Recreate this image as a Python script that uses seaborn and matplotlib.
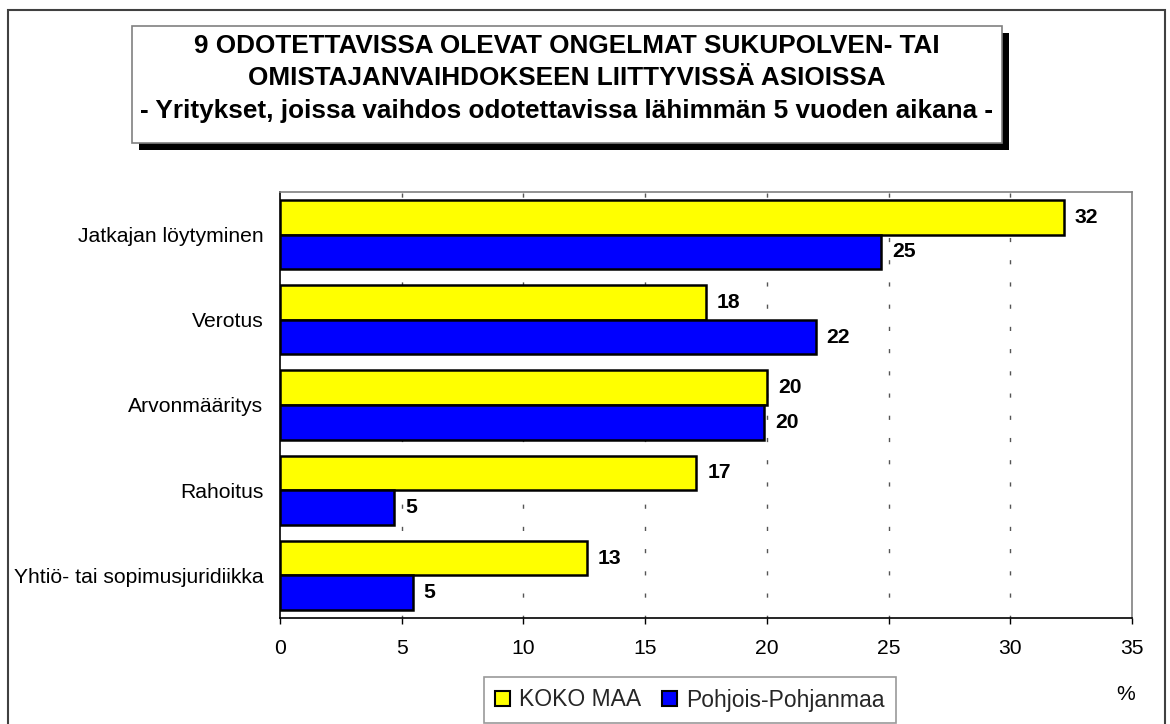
import matplotlib
matplotlib.use("Agg")
import matplotlib.pyplot as plt
from matplotlib.patches import Rectangle
import seaborn as sns
import pandas as pd

# ---- data ----
categories = ["Jatkajan löytyminen", "Verotus", "Arvonmääritys", "Rahoitus",
              "Yhtiö- tai sopimusjuridiikka"]
series_names = ["KOKO MAA", "Pohjois-Pohjanmaa"]
koko_maa = [32.2, 17.5, 20.0, 17.1, 12.6]
pohjois_pohjanmaa = [24.7, 22.0, 19.9, 4.7, 5.45]
x_ticks = [0, 5, 10, 15, 20, 25, 30, 35]
title_lines = ["9 ODOTETTAVISSA OLEVAT ONGELMAT SUKUPOLVEN- TAI",
               "OMISTAJANVAIHDOKSEEN LIITTYVISSÄ ASIOISSA",
               "- Yritykset, joissa vaihdos odotettavissa lähimmän 5 vuoden aikana -"]
unit_label = "%"

df = pd.DataFrame({
    "category": categories * 2,
    "series": [series_names[0]] * len(categories) + [series_names[1]] * len(categories),
    "value": koko_maa + pohjois_pohjanmaa,
})

sns.set_theme(style="white")
plt.rcParams["font.family"] = ["Liberation Sans", "DejaVu Sans"]
plt.rcParams["lines.scale_dashes"] = False

W, H = 1170, 724
fig = plt.figure(figsize=(W / 100, H / 100), dpi=100)
fig.patch.set_facecolor("white")

def fx(px):
    return px / W

def fy(py):
    return 1 - py / H

FS = 15.2

ax = fig.add_axes([fx(280), fy(618), fx(1132) - fx(280), fy(192) - fy(618)])

sns.barplot(data=df, y="category", x="value", hue="series", orient="h",
            palette=["#FFFF00", "#0000FF"], width=0.81, gap=0,
            edgecolor="black", linewidth=1.8, errorbar=None, ax=ax,
            saturation=1)

ax.set_xlim(0, 35)
ax.set_xticks(x_ticks)
ax.set_xlabel("")
ax.set_ylabel("")

# grid lines
for v in x_ticks[1:-1]:
    ax.axvline(v, color="#555555", lw=1.0, linestyle=(1, (3, 13)), zorder=0)

# spines
for s in ["top", "right"]:
    ax.spines[s].set_color("#808080")
    ax.spines[s].set_linewidth(1.2)
for s in ["left", "bottom"]:
    ax.spines[s].set_color("black")
    ax.spines[s].set_linewidth(1.2)

ax.tick_params(axis="x", which="both", bottom=True, direction="out", length=4,
               width=1, color="black", labelsize=FS, pad=11)
ax.tick_params(axis="y", which="both", left=False, length=0, labelsize=FS, pad=12)
for lab in ax.get_xticklabels() + ax.get_yticklabels():
    lab.set_color("black")

# value labels
for cont in ax.containers:
    vals = [r.get_width() for r in cont]
    ax.bar_label(cont, labels=[f"{v:.0f}" for v in vals], padding=8,
                 fontsize=FS, fontweight="bold", color="black")

# legend
handles, labels = ax.get_legend_handles_labels()
if ax.get_legend() is not None:
    ax.get_legend().remove()
leg = fig.legend(handles, labels, loc="center",
                 bbox_to_anchor=(fx(690), fy(700)), ncol=2, frameon=True,
                 fontsize=16.5, handlelength=0.65, handleheight=0.65,
                 handletextpad=0.4, columnspacing=0.9, borderpad=0.5,
                 borderaxespad=0, fancybox=False)
leg.get_frame().set_edgecolor("#808080")
leg.get_frame().set_linewidth(1.2)
for h in leg.legend_handles:
    h.set_edgecolor("black")
    h.set_linewidth(1.5)

fig.text(fx(1126), fy(695), unit_label, ha="center", va="center",
         fontsize=FS, color="black")

# outer figure border
fig.add_artist(Rectangle((fx(8), -0.05), fx(1165) - fx(8), fy(10) + 0.05,
                         transform=fig.transFigure, fill=False,
                         edgecolor="#404040", lw=1.5))

# title box with shadow
fig.add_artist(Rectangle((fx(139), fy(150)), fx(1009) - fx(139), fy(33) - fy(150),
                         transform=fig.transFigure, facecolor="black",
                         edgecolor="none", zorder=2))
fig.add_artist(Rectangle((fx(132), fy(143)), fx(1002) - fx(132), fy(26) - fy(143),
                         transform=fig.transFigure, facecolor="white",
                         edgecolor="#808080", lw=1.2, zorder=3))
for yy, line in zip([46, 78, 111], title_lines):
    fig.text(fx(567), fy(yy), line, ha="center", va="center", fontsize=18.8,
             fontweight="bold", color="black", zorder=4)

fig.savefig("out.png", dpi=100, facecolor="white")
